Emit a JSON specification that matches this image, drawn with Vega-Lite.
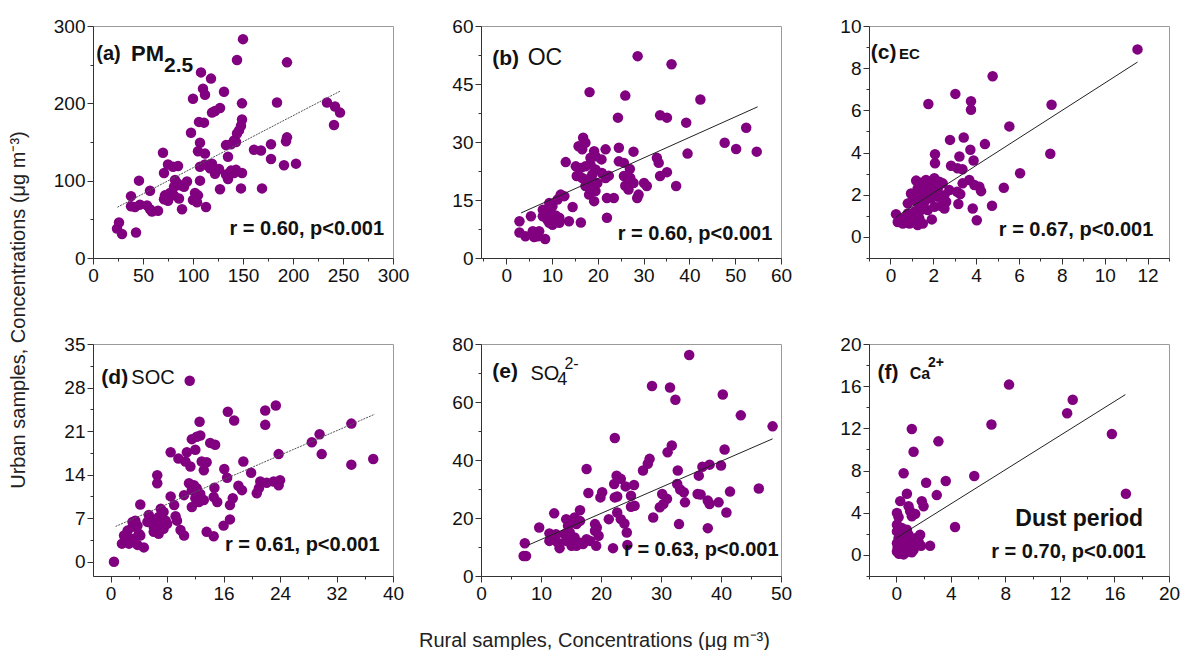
{
  "$schema": "https://vega.github.io/schema/vega-lite/v6.json",
  "padding": {"left": 8, "top": 16, "right": 5, "bottom": 5},
  "background": "white",
  "title": {"text": "Rural samples, Concentrations (μg m⁻³)", "orient": "bottom", "anchor": "middle", "font": "Liberation Sans", "fontSize": 20, "fontWeight": "normal", "color": "#222", "offset": 27},
  "config": {
    "font": "Liberation Sans",
    "view": {"stroke": "#9a9a9a", "strokeWidth": 1},
    "axis": {"labelFont": "Liberation Sans", "labelFontSize": 19, "labelColor": "#111", "domainColor": "#333", "tickColor": "#333", "tickSize": 6, "labelPadding": 2, "grid": false, "labelFlush": false, "labelOverlap": false, "domainWidth": 1, "tickWidth": 1},
    "text": {"font": "Liberation Sans", "color": "#111"}
  },
  "datasets": {
    "pm25": [
      {"rural":150,"urban":283},{"rural":144,"urban":256},{"rural":194,"urban":253},{"rural":108,"urban":240},{"rural":118,"urban":232},{"rural":110,"urban":219},{"rural":112,"urban":211},{"rural":131,"urban":215},{"rural":100,"urban":206},{"rural":184,"urban":201},{"rural":149,"urban":200},{"rural":234,"urban":201},{"rural":242,"urban":196},{"rural":247,"urban":188},{"rural":241,"urban":172},{"rural":127,"urban":194},{"rural":122,"urban":190},{"rural":119,"urban":188},{"rural":149,"urban":179},{"rural":106,"urban":176},{"rural":111,"urban":175},{"rural":148,"urban":171},{"rural":146,"urban":165},{"rural":144,"urban":161},{"rural":98,"urban":162},{"rural":107,"urban":149},{"rural":141,"urban":152},{"rural":138,"urban":147},{"rural":133,"urban":146},{"rural":143,"urban":150},{"rural":178,"urban":147},{"rural":194,"urban":156},{"rural":193,"urban":151},{"rural":161,"urban":140},{"rural":168,"urban":139},{"rural":105,"urban":138},{"rural":112,"urban":135},{"rural":70,"urban":136},{"rural":135,"urban":131},{"rural":178,"urban":128},{"rural":75,"urban":121},{"rural":85,"urban":119},{"rural":80,"urban":118},{"rural":107,"urban":118},{"rural":112,"urban":121},{"rural":119,"urban":122},{"rural":117,"urban":116},{"rural":122,"urban":109},{"rural":126,"urban":115},{"rural":191,"urban":120},{"rural":203,"urban":122},{"rural":71,"urban":110},{"rural":133,"urban":108},{"rural":135,"urban":102},{"rural":141,"urban":110},{"rural":143,"urban":114},{"rural":138,"urban":113},{"rural":149,"urban":110},{"rural":107,"urban":100},{"rural":82,"urban":101},{"rural":84,"urban":97},{"rural":87,"urban":94},{"rural":94,"urban":99},{"rural":91,"urban":92},{"rural":81,"urban":92},{"rural":46,"urban":100},{"rural":127,"urban":89},{"rural":148,"urban":90},{"rural":169,"urban":90},{"rural":57,"urban":87},{"rural":77,"urban":84},{"rural":72,"urban":81},{"rural":81,"urban":81},{"rural":86,"urban":77},{"rural":38,"urban":80},{"rural":71,"urban":76},{"rural":75,"urban":74},{"rural":102,"urban":84},{"rural":105,"urban":81},{"rural":100,"urban":75},{"rural":104,"urban":72},{"rural":38,"urban":67},{"rural":42,"urban":66},{"rural":47,"urban":69},{"rural":54,"urban":68},{"rural":57,"urban":63},{"rural":65,"urban":61},{"rural":59,"urban":60},{"rural":89,"urban":63},{"rural":113,"urban":66},{"rural":26,"urban":46},{"rural":24,"urban":38},{"rural":29,"urban":31},{"rural":43,"urban":33}
    ],
    "pm25fit": [{"rural":24.4,"urban":65.7},{"rural":247,"urban":215.7}],
    "oc": [
      {"rural":28.7,"urban":52.2},{"rural":36.1,"urban":50.1},{"rural":18.2,"urban":42.9},{"rural":26.0,"urban":42.0},{"rural":42.4,"urban":41.0},{"rural":24.4,"urban":36.3},{"rural":33.6,"urban":36.9},{"rural":35.1,"urban":36.3},{"rural":39.3,"urban":35.0},{"rural":47.7,"urban":29.8},{"rural":50.2,"urban":28.2},{"rural":52.4,"urban":33.7},{"rural":54.7,"urban":27.5},{"rural":39.6,"urban":27.0},{"rural":27.8,"urban":27.5},{"rural":24.6,"urban":28.5},{"rural":21.7,"urban":28.1},{"rural":16.8,"urban":31.1},{"rural":17.3,"urban":29.8},{"rural":15.8,"urban":28.9},{"rural":16.6,"urban":28.1},{"rural":19.2,"urban":27.6},{"rural":19.5,"urban":26.3},{"rural":18.4,"urban":25.9},{"rural":20.8,"urban":25.5},{"rural":13.0,"urban":24.8},{"rural":15.2,"urban":23.7},{"rural":16.3,"urban":23.3},{"rural":17.3,"urban":23.7},{"rural":18.4,"urban":24.2},{"rural":19.5,"urban":22.9},{"rural":20.9,"urban":22.0},{"rural":18.8,"urban":21.6},{"rural":32.9,"urban":25.9},{"rural":33.3,"urban":24.6},{"rural":24.6,"urban":25.0},{"rural":25.7,"urban":24.6},{"rural":27.0,"urban":23.0},{"rural":15.4,"urban":21.2},{"rural":16.6,"urban":20.7},{"rural":17.7,"urban":20.3},{"rural":18.8,"urban":19.9},{"rural":19.9,"urban":19.4},{"rural":21.7,"urban":20.7},{"rural":22.4,"urban":21.3},{"rural":17.3,"urban":18.6},{"rural":18.4,"urban":17.7},{"rural":19.5,"urban":17.3},{"rural":18.1,"urban":16.4},{"rural":19.2,"urban":14.7},{"rural":35.1,"urban":22.2},{"rural":33.6,"urban":21.2},{"rural":25.7,"urban":21.2},{"rural":27.1,"urban":20.7},{"rural":27.8,"urban":19.4},{"rural":26.0,"urban":18.7},{"rural":26.7,"urban":17.7},{"rural":30.1,"urban":19.4},{"rural":30.7,"urban":18.6},{"rural":37.1,"urban":18.6},{"rural":28.9,"urban":16.4},{"rural":28.6,"urban":15.5},{"rural":22.0,"urban":15.5},{"rural":23.5,"urban":15.5},{"rural":22.0,"urban":10.4},{"rural":11.9,"urban":16.4},{"rural":12.7,"urban":16.0},{"rural":11.2,"urban":15.1},{"rural":14.5,"urban":13.2},{"rural":9.4,"urban":14.2},{"rural":10.1,"urban":13.4},{"rural":8.0,"urban":12.5},{"rural":8.7,"urban":11.8},{"rural":9.8,"urban":11.2},{"rural":10.8,"urban":11.0},{"rural":11.6,"urban":10.4},{"rural":8.0,"urban":10.8},{"rural":9.0,"urban":9.9},{"rural":10.1,"urban":8.6},{"rural":9.4,"urban":9.1},{"rural":13.7,"urban":9.5},{"rural":16.3,"urban":9.2},{"rural":11.6,"urban":9.1},{"rural":5.4,"urban":10.8},{"rural":2.9,"urban":9.5},{"rural":2.9,"urban":6.6},{"rural":4.2,"urban":5.6},{"rural":5.8,"urban":6.9},{"rural":6.9,"urban":5.6},{"rural":7.2,"urban":6.9},{"rural":6.1,"urban":5.4},{"rural":8.5,"urban":4.9}
    ],
    "ocfit": [{"rural":3.25,"urban":11.65},{"rural":54.9,"urban":39.1}],
    "ec": [
      {"rural":11.53,"urban":8.89},{"rural":4.77,"urban":7.62},{"rural":3.03,"urban":6.78},{"rural":1.77,"urban":6.30},{"rural":3.76,"urban":6.43},{"rural":3.76,"urban":6.03},{"rural":7.52,"urban":6.27},{"rural":5.55,"urban":5.24},{"rural":2.78,"urban":4.60},{"rural":3.42,"urban":4.71},{"rural":4.41,"urban":4.40},{"rural":3.73,"urban":4.13},{"rural":7.46,"urban":3.94},{"rural":2.08,"urban":3.92},{"rural":2.08,"urban":3.49},{"rural":3.22,"urban":3.81},{"rural":3.88,"urban":3.62},{"rural":2.83,"urban":3.37},{"rural":3.13,"urban":3.25},{"rural":3.36,"urban":3.21},{"rural":6.05,"urban":3.02},{"rural":3.37,"urban":2.54},{"rural":3.68,"urban":2.70},{"rural":3.92,"urban":2.46},{"rural":4.15,"urban":2.38},{"rural":4.23,"urban":2.17},{"rural":5.29,"urban":2.33},{"rural":3.11,"urban":2.14},{"rural":3.26,"urban":2.03},{"rural":3.17,"urban":1.56},{"rural":3.84,"urban":1.35},{"rural":4.74,"urban":1.48},{"rural":4.03,"urban":0.79},{"rural":1.93,"urban":0.83},
      {"rural":1.20,"urban":2.67},{"rural":1.43,"urban":2.57},{"rural":1.66,"urban":2.70},{"rural":1.90,"urban":2.62},{"rural":2.05,"urban":2.78},{"rural":2.28,"urban":2.62},{"rural":2.44,"urban":2.54},{"rural":2.21,"urban":2.30},{"rural":1.90,"urban":2.22},{"rural":1.66,"urban":2.06},{"rural":1.43,"urban":1.98},{"rural":1.20,"urban":1.90},{"rural":1.04,"urban":1.75},{"rural":0.81,"urban":1.59},{"rural":1.27,"urban":1.59},{"rural":1.59,"urban":1.67},{"rural":1.90,"urban":1.83},{"rural":2.21,"urban":1.90},{"rural":2.52,"urban":1.98},{"rural":2.60,"urban":1.67},{"rural":2.36,"urban":1.46},{"rural":2.05,"urban":1.43},{"rural":1.74,"urban":1.27},{"rural":1.43,"urban":1.27},{"rural":1.12,"urban":1.19},{"rural":0.81,"urban":1.11},{"rural":0.58,"urban":0.87},{"rural":0.34,"urban":0.71},{"rural":0.26,"urban":1.08},{"rural":0.58,"urban":0.63},{"rural":0.89,"urban":0.63},{"rural":1.04,"urban":0.87},{"rural":1.35,"urban":0.87},{"rural":1.27,"urban":0.56},{"rural":1.51,"urban":0.63},{"rural":2.75,"urban":2.22},{"rural":2.52,"urban":1.35},{"rural":1.82,"urban":2.38},{"rural":1.51,"urban":2.38},{"rural":1.27,"urban":2.30},{"rural":0.96,"urban":2.06}
    ],
    "ecfit": [{"rural":0.26,"urban":0.95},{"rural":11.53,"urban":8.29}],
    "soc": [
      {"rural":0.47,"urban":0},{"rural":11.2,"urban":29.1},{"rural":16.6,"urban":24.1},{"rural":17.5,"urban":22.7},{"rural":21.9,"urban":24.3},{"rural":21.9,"urban":22.0},{"rural":23.4,"urban":25.1},{"rural":12.6,"urban":22.5},{"rural":34.1,"urban":22.2},{"rural":29.6,"urban":20.5},{"rural":28.5,"urban":19.2},{"rural":29.9,"urban":17.3},{"rural":23.8,"urban":17.3},{"rural":37.2,"urban":16.5},{"rural":34.1,"urban":15.6},{"rural":11.5,"urban":19.7},{"rural":12.2,"urban":20.1},{"rural":12.7,"urban":20.3},{"rural":12.0,"urban":18.0},{"rural":14.1,"urban":19.1},{"rural":14.8,"urban":18.8},{"rural":10.8,"urban":17.6},{"rural":8.5,"urban":17.6},{"rural":9.6,"urban":16.6},{"rural":10.6,"urban":16.1},{"rural":11.3,"urban":15.3},{"rural":12.9,"urban":16.1},{"rural":13.6,"urban":16.0},{"rural":13.2,"urban":14.7},{"rural":18.8,"urban":16.1},{"rural":19.9,"urban":14.3},{"rural":16.1,"urban":14.9},{"rural":16.5,"urban":13.5},{"rural":14.7,"urban":11.9},{"rural":6.6,"urban":13.9},{"rural":6.6,"urban":12.6},{"rural":11.1,"urban":12.6},{"rural":11.8,"urban":12.3},{"rural":12.2,"urban":11.8},{"rural":11.5,"urban":11.5},{"rural":12.7,"urban":10.9},{"rural":12.0,"urban":10.2},{"rural":11.5,"urban":8.8},{"rural":12.5,"urban":9.6},{"rural":18.1,"urban":12.2},{"rural":18.6,"urban":11.5},{"rural":21.2,"urban":12.9},{"rural":22.1,"urban":12.7},{"rural":23.1,"urban":12.9},{"rural":23.8,"urban":12.3},{"rural":24.0,"urban":13.1},{"rural":21.0,"urban":11.8},{"rural":20.7,"urban":11.0},{"rural":13.2,"urban":9.9},{"rural":14.6,"urban":10.4},{"rural":15.1,"urban":9.6},{"rural":17.3,"urban":10.2},{"rural":16.9,"urban":9.1},{"rural":8.5,"urban":10.5},{"rural":10.4,"urban":10.7},{"rural":9.0,"urban":9.1},{"rural":9.2,"urban":7.3},{"rural":9.4,"urban":6.6},{"rural":16.9,"urban":6.8},{"rural":16.0,"urban":5.8},{"rural":13.6,"urban":4.8},{"rural":14.6,"urban":4.1},{"rural":9.9,"urban":5.1},{"rural":10.4,"urban":4.2},{"rural":4.2,"urban":9.2},{"rural":7.1,"urban":8.5},{"rural":7.5,"urban":8.0},{"rural":6.8,"urban":7.2},{"rural":7.8,"urban":6.6},{"rural":7.3,"urban":5.8},{"rural":8.0,"urban":6.1},{"rural":6.4,"urban":6.4},{"rural":6.1,"urban":5.6},{"rural":5.4,"urban":7.5},{"rural":5.6,"urban":6.9},{"rural":5.2,"urban":6.4},{"rural":6.1,"urban":4.8},{"rural":6.8,"urban":4.5},{"rural":7.5,"urban":5.3},{"rural":3.5,"urban":6.6},{"rural":3.1,"urban":6.4},{"rural":3.8,"urban":5.8},{"rural":3.1,"urban":5.6},{"rural":2.4,"urban":5.0},{"rural":1.9,"urban":4.2},{"rural":1.6,"urban":2.9},{"rural":2.6,"urban":2.9},{"rural":3.3,"urban":3.7},{"rural":4.2,"urban":4.2},{"rural":3.8,"urban":2.7},{"rural":4.7,"urban":2.3},{"rural":2.8,"urban":3.7},{"rural":4.0,"urban":4.5}
    ],
    "socfit": [{"rural":0.7,"urban":5.67},{"rural":37.4,"urban":23.7}],
    "so4": [
      {"rural":34.7,"urban":76.2},{"rural":28.5,"urban":65.5},{"rural":31.5,"urban":65.0},{"rural":32.4,"urban":60.8},{"rural":40.3,"urban":62.6},{"rural":43.3,"urban":55.4},{"rural":48.6,"urban":51.6},{"rural":22.3,"urban":47.6},{"rural":31.8,"urban":45.0},{"rural":31.1,"urban":42.7},{"rural":40.6,"urban":43.6},{"rural":28.1,"urban":40.4},{"rural":27.8,"urban":38.7},{"rural":27.0,"urban":36.4},{"rural":17.6,"urban":36.9},{"rural":32.8,"urban":36.4},{"rural":36.9,"urban":37.7},{"rural":38.1,"urban":38.4},{"rural":40.0,"urban":38.1},{"rural":36.3,"urban":34.6},{"rural":22.6,"urban":34.6},{"rural":23.3,"urban":33.5},{"rural":22.2,"urban":31.7},{"rural":24.1,"urban":30.9},{"rural":25.5,"urban":31.4},{"rural":46.3,"urban":30.2},{"rural":17.9,"urban":28.6},{"rural":20.2,"urban":28.9},{"rural":19.9,"urban":27.1},{"rural":22.3,"urban":27.1},{"rural":22.7,"urban":27.4},{"rural":25.0,"urban":27.7},{"rural":30.2,"urban":28.3},{"rural":31.0,"urban":26.6},{"rural":30.4,"urban":24.8},{"rural":29.8,"urban":23.7},{"rural":32.7,"urban":31.7},{"rural":33.2,"urban":29.8},{"rural":33.8,"urban":28.9},{"rural":34.0,"urban":25.4},{"rural":36.1,"urban":28.3},{"rural":36.6,"urban":28.1},{"rural":37.8,"urban":26.0},{"rural":38.1,"urban":24.8},{"rural":39.6,"urban":25.4},{"rural":41.5,"urban":29.1},{"rural":40.9,"urban":21.9},{"rural":37.8,"urban":16.5},{"rural":33.0,"urban":17.9},{"rural":28.7,"urban":20.2},{"rural":25.0,"urban":23.9},{"rural":25.6,"urban":24.2},{"rural":21.3,"urban":19.6},{"rural":22.7,"urban":21.9},{"rural":23.3,"urban":19.6},{"rural":23.9,"urban":18.1},{"rural":24.3,"urban":15.0},{"rural":24.4,"urban":10.7},{"rural":22.0,"urban":9.6},{"rural":19.0,"urban":17.9},{"rural":19.3,"urban":16.7},{"rural":19.0,"urban":15.6},{"rural":19.6,"urban":13.9},{"rural":19.2,"urban":10.4},{"rural":16.5,"urban":22.7},{"rural":15.6,"urban":20.2},{"rural":16.5,"urban":19.0},{"rural":15.9,"urban":17.9},{"rural":15.1,"urban":19.0},{"rural":14.2,"urban":19.6},{"rural":14.5,"urban":17.3},{"rural":12.2,"urban":21.6},{"rural":9.7,"urban":16.7},{"rural":11.4,"urban":14.7},{"rural":12.5,"urban":14.4},{"rural":11.9,"urban":12.7},{"rural":12.8,"urban":11.5},{"rural":11.4,"urban":12.1},{"rural":13.1,"urban":9.6},{"rural":14.2,"urban":12.1},{"rural":15.1,"urban":10.4},{"rural":15.9,"urban":10.4},{"rural":16.5,"urban":11.5},{"rural":17.0,"urban":11.0},{"rural":17.6,"urban":12.7},{"rural":18.2,"urban":12.1},{"rural":15.6,"urban":13.3},{"rural":14.8,"urban":15.0},{"rural":13.9,"urban":14.4},{"rural":7.3,"urban":11.3},{"rural":7.1,"urban":6.9},{"rural":7.5,"urban":6.9}
    ],
    "so4fit": [{"rural":7.8,"urban":10.6},{"rural":48.6,"urban":47.3}],
    "ca": [
      {"rural":8.27,"urban":16.15},{"rural":12.94,"urban":14.71},{"rural":12.53,"urban":13.44},{"rural":6.98,"urban":12.36},{"rural":15.81,"urban":11.47},{"rural":1.14,"urban":11.94},{"rural":3.09,"urban":10.77},{"rural":1.27,"urban":9.78},{"rural":0.54,"urban":7.74},{"rural":2.19,"urban":6.85},{"rural":3.63,"urban":7.01},{"rural":5.72,"urban":7.48},{"rural":16.84,"urban":5.80},{"rural":2.97,"urban":5.67},{"rural":0.78,"urban":5.80},{"rural":1.87,"urban":5.10},{"rural":2.00,"urban":4.62},{"rural":0.29,"urban":5.10},{"rural":0.05,"urban":3.98},{"rural":0.17,"urban":3.57},{"rural":0.90,"urban":4.62},{"rural":1.02,"urban":4.14},{"rural":1.39,"urban":3.89},{"rural":1.14,"urban":3.66},{"rural":4.31,"urban":2.64},{"rural":0.05,"urban":2.23},{"rural":0.17,"urban":1.59},{"rural":0.41,"urban":0.96},{"rural":0.05,"urban":0.32},{"rural":0.29,"urban":0.48},{"rural":0.66,"urban":1.27},{"rural":0.90,"urban":1.91},{"rural":1.14,"urban":0.96},{"rural":1.39,"urban":1.59},{"rural":0.90,"urban":0.32},{"rural":0.54,"urban":0.05},{"rural":1.63,"urban":1.27},{"rural":1.75,"urban":1.91},{"rural":1.27,"urban":0.48},{"rural":0.05,"urban":1.11},{"rural":0.05,"urban":2.87},{"rural":0.41,"urban":2.55},{"rural":0.78,"urban":2.39},{"rural":1.82,"urban":0.86},{"rural":2.48,"urban":0.86},{"rural":1.14,"urban":0.25},{"rural":0.2,"urban":0.1},{"rural":0.35,"urban":1.8},{"rural":0.6,"urban":2.0},{"rural":0.1,"urban":0.7},{"rural":0.25,"urban":1.3},{"rural":0.7,"urban":0.7}
    ],
    "cafit": [{"rural":0,"urban":1.6},{"rural":16.8,"urban":15.2}]
  },
  "vconcat": [
    {
      "title": {"text": "Urban samples, Concentrations (μg m⁻³)", "orient": "left", "anchor": "middle", "font": "Liberation Sans", "fontSize": 20, "fontWeight": "normal", "color": "#222", "offset": 24},
      "columns": 3,
      "spacing": {"row": 86, "column": 88},
      "bounds": "flush",
      "concat": [
        {
          "width": 300, "height": 232,
          "resolve": {"axis": {"x": "independent", "y": "independent"}},
          "layer": [
            {"data": {"name": "pm25"}, "mark": {"type": "circle", "size": 110, "color": "#800080", "opacity": 1},
             "encoding": {"x": {"field": "rural", "type": "quantitative", "title": null, "scale": {"domain": [0, 300], "nice": false, "zero": false}, "axis": {"values": [0, 50, 100, 150, 200, 250, 300]}},
                          "y": {"field": "urban", "type": "quantitative", "title": null, "scale": {"domain": [0, 300], "nice": false, "zero": false}, "axis": {"values": [0, 100, 200, 300]}}}},
            {"data": {"name": "pm25fit"}, "mark": {"type": "line", "color": "#555", "strokeWidth": 1, "strokeDash": [2, 1]},
             "encoding": {"x": {"field": "rural", "type": "quantitative", "title": null, "scale": {"domain": [0, 300], "nice": false, "zero": false}, "axis": {"orient": "bottom", "values": [25, 75, 125, 175, 225, 275], "labels": false, "domain": false, "tickSize": 3}},
                          "y": {"field": "urban", "type": "quantitative", "title": null, "scale": {"domain": [0, 300], "nice": false, "zero": false}, "axis": {"orient": "left", "values": [50, 150, 250], "labels": false, "domain": false, "tickSize": 3}}}},
            {"data": {"values": [{}]}, "mark": {"type": "text", "text": "(a)", "align": "left", "baseline": "alphabetic", "fontSize": 20, "fontWeight": "bold"},
             "encoding": {"x": {"datum": 3.3, "axis": null}, "y": {"datum": 256, "axis": null}}},
            {"data": {"values": [{}]}, "mark": {"type": "text", "text": "PM", "align": "left", "baseline": "alphabetic", "fontSize": 22, "fontWeight": "bold"},
             "encoding": {"x": {"datum": 38, "axis": null}, "y": {"datum": 255, "axis": null}}},
            {"data": {"values": [{}]}, "mark": {"type": "text", "text": "2.5", "align": "left", "baseline": "alphabetic", "fontSize": 21, "fontWeight": "bold"},
             "encoding": {"x": {"datum": 71, "axis": null}, "y": {"datum": 240, "axis": null}}},
            {"data": {"values": [{}]}, "mark": {"type": "text", "text": "r = 0.60, p<0.001", "align": "right", "baseline": "alphabetic", "fontSize": 20, "fontWeight": "bold"},
             "encoding": {"x": {"datum": 291, "axis": null}, "y": {"datum": 30, "axis": null}}}
          ]
        },
        {
          "width": 300, "height": 232,
          "resolve": {"axis": {"x": "independent", "y": "independent"}},
          "layer": [
            {"data": {"name": "oc"}, "mark": {"type": "circle", "size": 110, "color": "#800080", "opacity": 1},
             "encoding": {"x": {"field": "rural", "type": "quantitative", "title": null, "scale": {"domain": [-5.5, 60], "nice": false, "zero": false}, "axis": {"values": [0, 10, 20, 30, 40, 50, 60]}},
                          "y": {"field": "urban", "type": "quantitative", "title": null, "scale": {"domain": [0, 60], "nice": false, "zero": false}, "axis": {"values": [0, 15, 30, 45, 60]}}}},
            {"data": {"name": "ocfit"}, "mark": {"type": "line", "color": "#222", "strokeWidth": 1},
             "encoding": {"x": {"field": "rural", "type": "quantitative", "title": null, "scale": {"domain": [-5.5, 60], "nice": false, "zero": false}, "axis": {"orient": "bottom", "values": [-5, 5, 15, 25, 35, 45, 55], "labels": false, "domain": false, "tickSize": 3}},
                          "y": {"field": "urban", "type": "quantitative", "title": null, "scale": {"domain": [0, 60], "nice": false, "zero": false}, "axis": {"orient": "left", "values": [7.5, 22.5, 37.5, 52.5], "labels": false, "domain": false, "tickSize": 3}}}},
            {"data": {"values": [{}]}, "mark": {"type": "text", "text": "(b)", "align": "left", "baseline": "alphabetic", "fontSize": 21, "fontWeight": "bold"},
             "encoding": {"x": {"datum": -3.05, "axis": null}, "y": {"datum": 49.8, "axis": null}}},
            {"data": {"values": [{}]}, "mark": {"type": "text", "text": "OC", "align": "left", "baseline": "alphabetic", "fontSize": 23, "fontWeight": "normal"},
             "encoding": {"x": {"datum": 4.7, "axis": null}, "y": {"datum": 49.8, "axis": null}}},
            {"data": {"values": [{}]}, "mark": {"type": "text", "text": "r = 0.60, p<0.001", "align": "right", "baseline": "alphabetic", "fontSize": 20, "fontWeight": "bold"},
             "encoding": {"x": {"datum": 58.1, "axis": null}, "y": {"datum": 4.75, "axis": null}}}
          ]
        },
        {
          "width": 300, "height": 232,
          "resolve": {"axis": {"x": "independent", "y": "independent"}},
          "layer": [
            {"data": {"name": "ec"}, "mark": {"type": "circle", "size": 110, "color": "#800080", "opacity": 1},
             "encoding": {"x": {"field": "rural", "type": "quantitative", "title": null, "scale": {"domain": [-1, 13], "nice": false, "zero": false}, "axis": {"values": [0, 2, 4, 6, 8, 10, 12]}},
                          "y": {"field": "urban", "type": "quantitative", "title": null, "scale": {"domain": [-1, 10], "nice": false, "zero": false}, "axis": {"values": [0, 2, 4, 6, 8, 10]}}}},
            {"data": {"name": "ecfit"}, "mark": {"type": "line", "color": "#222", "strokeWidth": 1},
             "encoding": {"x": {"field": "rural", "type": "quantitative", "title": null, "scale": {"domain": [-1, 13], "nice": false, "zero": false}, "axis": {"orient": "bottom", "values": [-1, 1, 3, 5, 7, 9, 11, 13], "labels": false, "domain": false, "tickSize": 3}},
                          "y": {"field": "urban", "type": "quantitative", "title": null, "scale": {"domain": [-1, 10], "nice": false, "zero": false}, "axis": {"orient": "left", "values": [-1, 1, 3, 5, 7, 9], "labels": false, "domain": false, "tickSize": 3}}}},
            {"data": {"values": [{}]}, "mark": {"type": "text", "text": "(c)", "align": "left", "baseline": "alphabetic", "fontSize": 21, "fontWeight": "bold"},
             "encoding": {"x": {"datum": -0.92, "axis": null}, "y": {"datum": 8.44, "axis": null}}},
            {"data": {"values": [{}]}, "mark": {"type": "text", "text": "EC", "align": "left", "baseline": "alphabetic", "fontSize": 15, "fontWeight": "bold"},
             "encoding": {"x": {"datum": 0.4, "axis": null}, "y": {"datum": 8.44, "axis": null}}},
            {"data": {"values": [{}]}, "mark": {"type": "text", "text": "r = 0.67, p<0.001", "align": "right", "baseline": "alphabetic", "fontSize": 20, "fontWeight": "bold"},
             "encoding": {"x": {"datum": 12.27, "axis": null}, "y": {"datum": 0.03, "axis": null}}}
          ]
        },
        {
          "width": 300, "height": 232,
          "resolve": {"axis": {"x": "independent", "y": "independent"}},
          "layer": [
            {"data": {"name": "soc"}, "mark": {"type": "circle", "size": 110, "color": "#800080", "opacity": 1},
             "encoding": {"x": {"field": "rural", "type": "quantitative", "title": null, "scale": {"domain": [-2.5, 40], "nice": false, "zero": false}, "axis": {"values": [0, 8, 16, 24, 32, 40]}},
                          "y": {"field": "urban", "type": "quantitative", "title": null, "scale": {"domain": [-2.3, 35], "nice": false, "zero": false}, "axis": {"values": [0, 7, 14, 21, 28, 35]}}}},
            {"data": {"name": "socfit"}, "mark": {"type": "line", "color": "#555", "strokeWidth": 1, "strokeDash": [2, 1]},
             "encoding": {"x": {"field": "rural", "type": "quantitative", "title": null, "scale": {"domain": [-2.5, 40], "nice": false, "zero": false}, "axis": {"orient": "bottom", "values": [4, 12, 20, 28, 36], "labels": false, "domain": false, "tickSize": 3}},
                          "y": {"field": "urban", "type": "quantitative", "title": null, "scale": {"domain": [-2.3, 35], "nice": false, "zero": false}, "axis": {"orient": "left", "values": [3.5, 10.5, 17.5, 24.5, 31.5], "labels": false, "domain": false, "tickSize": 3}}}},
            {"data": {"values": [{}]}, "mark": {"type": "text", "text": "(d)", "align": "left", "baseline": "alphabetic", "fontSize": 21, "fontWeight": "bold"},
             "encoding": {"x": {"datum": -1.32, "axis": null}, "y": {"datum": 28.5, "axis": null}}},
            {"data": {"values": [{}]}, "mark": {"type": "text", "text": "SOC", "align": "left", "baseline": "alphabetic", "fontSize": 20, "fontWeight": "normal"},
             "encoding": {"x": {"datum": 2.93, "axis": null}, "y": {"datum": 28.5, "axis": null}}},
            {"data": {"values": [{}]}, "mark": {"type": "text", "text": "r = 0.61, p<0.001", "align": "right", "baseline": "alphabetic", "fontSize": 20, "fontWeight": "bold"},
             "encoding": {"x": {"datum": 38.1, "axis": null}, "y": {"datum": 1.76, "axis": null}}}
          ]
        },
        {
          "width": 300, "height": 232,
          "resolve": {"axis": {"x": "independent", "y": "independent"}},
          "layer": [
            {"data": {"name": "so4"}, "mark": {"type": "circle", "size": 110, "color": "#800080", "opacity": 1},
             "encoding": {"x": {"field": "rural", "type": "quantitative", "title": null, "scale": {"domain": [0, 50], "nice": false, "zero": false}, "axis": {"values": [0, 10, 20, 30, 40, 50]}},
                          "y": {"field": "urban", "type": "quantitative", "title": null, "scale": {"domain": [0, 80], "nice": false, "zero": false}, "axis": {"values": [0, 20, 40, 60, 80]}}}},
            {"data": {"name": "so4fit"}, "mark": {"type": "line", "color": "#222", "strokeWidth": 1},
             "encoding": {"x": {"field": "rural", "type": "quantitative", "title": null, "scale": {"domain": [0, 50], "nice": false, "zero": false}, "axis": {"orient": "bottom", "values": [5, 15, 25, 35, 45], "labels": false, "domain": false, "tickSize": 3}},
                          "y": {"field": "urban", "type": "quantitative", "title": null, "scale": {"domain": [0, 80], "nice": false, "zero": false}, "axis": {"orient": "left", "values": [10, 30, 50, 70], "labels": false, "domain": false, "tickSize": 3}}}},
            {"data": {"values": [{}]}, "mark": {"type": "text", "text": "(e)", "align": "left", "baseline": "alphabetic", "fontSize": 21, "fontWeight": "bold"},
             "encoding": {"x": {"datum": 1.87, "axis": null}, "y": {"datum": 68.3, "axis": null}}},
            {"data": {"values": [{}]}, "mark": {"type": "text", "text": "SO", "align": "left", "baseline": "alphabetic", "fontSize": 20, "fontWeight": "normal"},
             "encoding": {"x": {"datum": 8.25, "axis": null}, "y": {"datum": 67.5, "axis": null}}},
            {"data": {"values": [{}]}, "mark": {"type": "text", "text": "4", "align": "left", "baseline": "alphabetic", "fontSize": 18, "fontWeight": "normal"},
             "encoding": {"x": {"datum": 12.7, "axis": null}, "y": {"datum": 65.7, "axis": null}}},
            {"data": {"values": [{}]}, "mark": {"type": "text", "text": "2-", "align": "left", "baseline": "alphabetic", "fontSize": 16, "fontWeight": "normal"},
             "encoding": {"x": {"datum": 13.9, "axis": null}, "y": {"datum": 71.5, "axis": null}}},
            {"data": {"values": [{}]}, "mark": {"type": "text", "text": "r = 0.63, p<0.001", "align": "right", "baseline": "alphabetic", "fontSize": 20, "fontWeight": "bold"},
             "encoding": {"x": {"datum": 49.6, "axis": null}, "y": {"datum": 6.86, "axis": null}}}
          ]
        },
        {
          "width": 300, "height": 232,
          "resolve": {"axis": {"x": "independent", "y": "independent"}},
          "layer": [
            {"data": {"name": "ca"}, "mark": {"type": "circle", "size": 110, "color": "#800080", "opacity": 1},
             "encoding": {"x": {"field": "rural", "type": "quantitative", "title": null, "scale": {"domain": [-2, 20], "nice": false, "zero": false}, "axis": {"values": [0, 4, 8, 12, 16, 20]}},
                          "y": {"field": "urban", "type": "quantitative", "title": null, "scale": {"domain": [-2, 20], "nice": false, "zero": false}, "axis": {"values": [0, 4, 8, 12, 16, 20]}}}},
            {"data": {"name": "cafit"}, "mark": {"type": "line", "color": "#222", "strokeWidth": 1},
             "encoding": {"x": {"field": "rural", "type": "quantitative", "title": null, "scale": {"domain": [-2, 20], "nice": false, "zero": false}, "axis": {"orient": "bottom", "values": [-2, 2, 6, 10, 14, 18], "labels": false, "domain": false, "tickSize": 3}},
                          "y": {"field": "urban", "type": "quantitative", "title": null, "scale": {"domain": [-2, 20], "nice": false, "zero": false}, "axis": {"orient": "left", "values": [-2, 2, 6, 10, 14, 18], "labels": false, "domain": false, "tickSize": 3}}}},
            {"data": {"values": [{}]}, "mark": {"type": "text", "text": "(f)", "align": "left", "baseline": "alphabetic", "fontSize": 21, "fontWeight": "bold"},
             "encoding": {"x": {"datum": -1.38, "axis": null}, "y": {"datum": 16.7, "axis": null}}},
            {"data": {"values": [{}]}, "mark": {"type": "text", "text": "Ca", "align": "left", "baseline": "alphabetic", "fontSize": 16, "fontWeight": "bold"},
             "encoding": {"x": {"datum": 0.98, "axis": null}, "y": {"datum": 16.7, "axis": null}}},
            {"data": {"values": [{}]}, "mark": {"type": "text", "text": "2+", "align": "left", "baseline": "alphabetic", "fontSize": 14, "fontWeight": "bold"},
             "encoding": {"x": {"datum": 2.33, "axis": null}, "y": {"datum": 17.8, "axis": null}}},
            {"data": {"values": [{}]}, "mark": {"type": "text", "text": "Dust period", "align": "right", "baseline": "alphabetic", "fontSize": 23, "fontWeight": "bold"},
             "encoding": {"x": {"datum": 18.1, "axis": null}, "y": {"datum": 2.74, "axis": null}}},
            {"data": {"values": [{}]}, "mark": {"type": "text", "text": "r = 0.70, p<0.001", "align": "right", "baseline": "alphabetic", "fontSize": 20, "fontWeight": "bold"},
             "encoding": {"x": {"datum": 18.3, "axis": null}, "y": {"datum": -0.27, "axis": null}}}
          ]
        }
      ]
    }
  ]
}
